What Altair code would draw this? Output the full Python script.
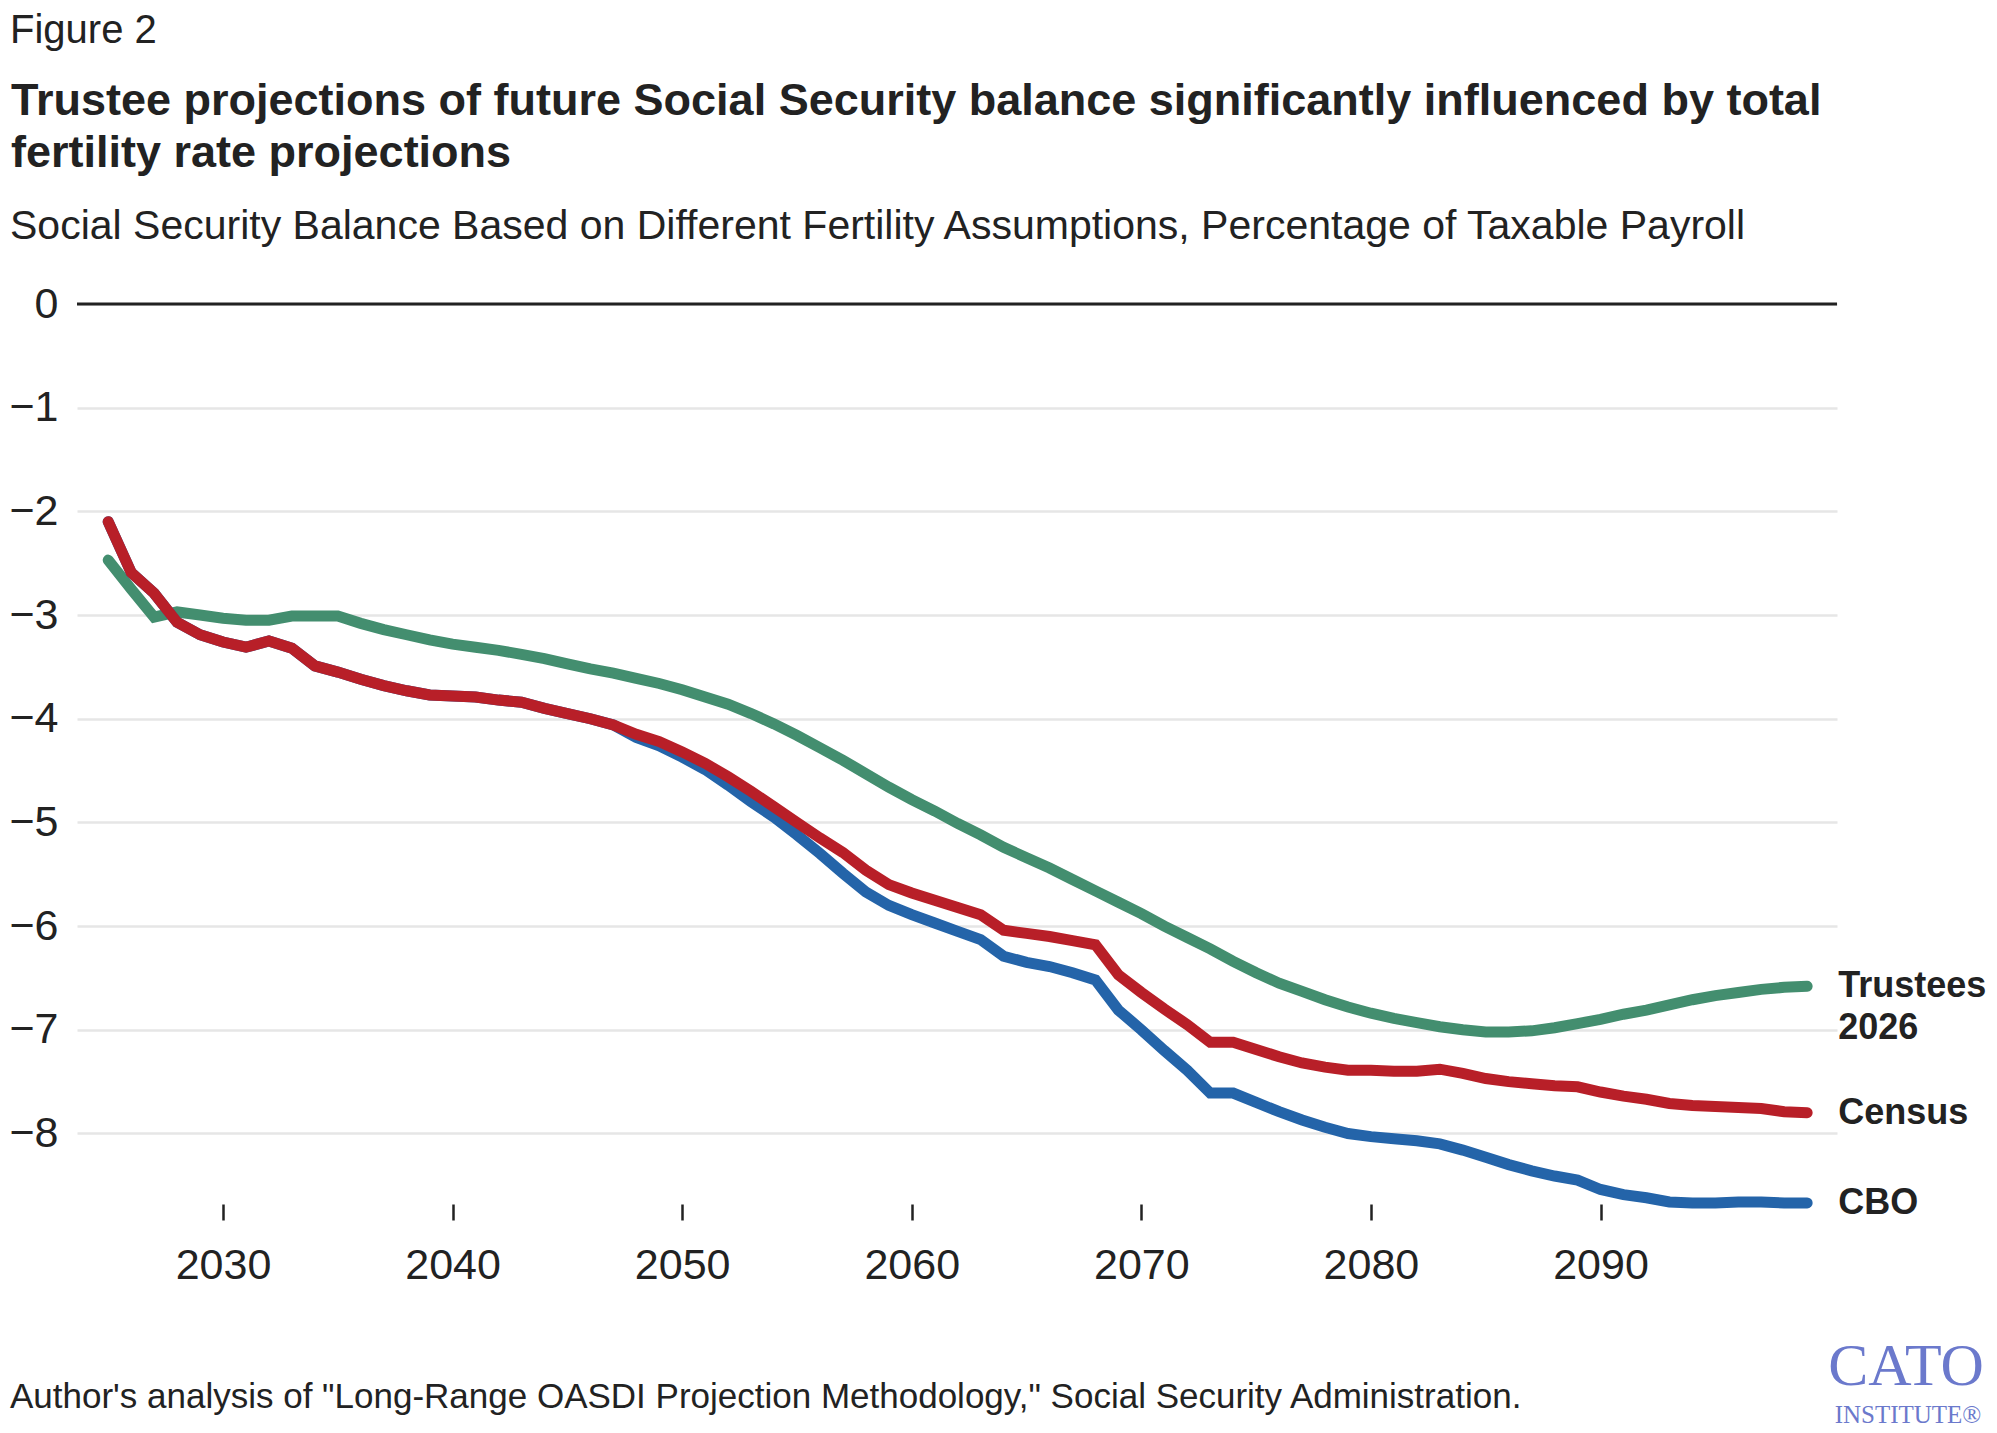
import altair as alt
import pandas as pd

# ---- data: Social Security balance, % of taxable payroll ----
years = list(range(2025, 2100))

trustees = [
    -2.47, -2.75, -3.02, -2.97, -3.00,
    -3.03, -3.05, -3.05, -3.01, -3.01,
    -3.01, -3.08, -3.14, -3.19, -3.24,
    -3.28, -3.31, -3.34, -3.38, -3.42,
    -3.47, -3.52, -3.56, -3.61, -3.66,
    -3.72, -3.79, -3.86, -3.95, -4.05,
    -4.16, -4.28, -4.40, -4.53, -4.66,
    -4.78, -4.89, -5.01, -5.12, -5.24,
    -5.34, -5.44, -5.55, -5.66, -5.77,
    -5.88, -6.00, -6.11, -6.22, -6.34,
    -6.45, -6.55, -6.63, -6.71, -6.78,
    -6.84, -6.89, -6.93, -6.97, -7.00,
    -7.02, -7.02, -7.01, -6.98, -6.94,
    -6.90, -6.85, -6.81, -6.76, -6.71,
    -6.67, -6.64, -6.61, -6.59, -6.58,
]

census = [
    -2.10, -2.59, -2.79, -3.07, -3.19,
    -3.26, -3.31, -3.25, -3.32, -3.49,
    -3.55, -3.62, -3.68, -3.73, -3.77,
    -3.78, -3.79, -3.82, -3.84, -3.90,
    -3.95, -4.00, -4.06, -4.15, -4.22,
    -4.32, -4.43, -4.56, -4.70, -4.85,
    -5.00, -5.15, -5.29, -5.46, -5.60,
    -5.68, -5.75, -5.82, -5.89, -6.04,
    -6.07, -6.10, -6.14, -6.18, -6.47,
    -6.64, -6.80, -6.95, -7.12, -7.12,
    -7.19, -7.26, -7.32, -7.36, -7.39,
    -7.39, -7.40, -7.40, -7.38, -7.42,
    -7.47, -7.50, -7.52, -7.54, -7.55,
    -7.60, -7.64, -7.67, -7.71, -7.73,
    -7.74, -7.75, -7.76, -7.79, -7.80,
]

cbo = [
    -2.10, -2.59, -2.79, -3.07, -3.19,
    -3.26, -3.31, -3.25, -3.32, -3.49,
    -3.55, -3.62, -3.68, -3.73, -3.77,
    -3.78, -3.79, -3.82, -3.84, -3.90,
    -3.95, -4.00, -4.06, -4.18, -4.26,
    -4.37, -4.49, -4.64, -4.80, -4.95,
    -5.12, -5.30, -5.49, -5.67, -5.80,
    -5.89, -5.97, -6.05, -6.13, -6.29,
    -6.35, -6.39, -6.45, -6.52, -6.81,
    -7.00, -7.20, -7.39, -7.61, -7.61,
    -7.70, -7.79, -7.87, -7.94, -8.00,
    -8.03, -8.05, -8.07, -8.10, -8.16,
    -8.23, -8.30, -8.36, -8.41, -8.45,
    -8.54, -8.59, -8.62, -8.66, -8.67,
    -8.67, -8.66, -8.66, -8.67, -8.67,
]

series_names = ["Trustees 2026", "CBO", "Census"]
series_colors = ["#438e6f", "#2464a9", "#b81f28"]
x_ticks = [2030, 2040, 2050, 2060, 2070, 2080, 2090]
y_ticks = [0, -1, -2, -3, -4, -5, -6, -7, -8]

FONT = "Liberation Sans"
SERIF = "Liberation Serif"
INK = "#222222"
LOGO = "#6b79cc"

W, H = 1760, 900  # plot area

x_enc = alt.X(
    "year:Q",
    scale=alt.Scale(domain=[2023.64, 2100.3], nice=False, zero=False),
    axis=alt.Axis(
        values=x_ticks, format="d", grid=False, domain=False,
        ticks=True, tickSize=16, tickWidth=2.5, tickColor=INK,
        labelFontSize=43, labelColor=INK, labelFont=FONT,
        labelPadding=24, labelFlush=False, labelOverlap=False, title=None,
    ),
)
y_enc = alt.Y(
    "value:Q",
    scale=alt.Scale(domain=[-8.68, 0], nice=False, zero=False),
    axis=alt.Axis(
        values=y_ticks, format="d", grid=True, gridColor="#e6e6e6",
        gridWidth=2.5, domain=False, ticks=False, labelFontSize=43,
        labelColor=INK, labelFont=FONT, labelPadding=19, labelFlush=False,
        labelOverlap=False, title=None,
    ),
)


def series_layer(values, color):
    df = pd.DataFrame({"year": years, "value": values})
    return alt.Chart(df).mark_line(
        color=color, strokeWidth=11, strokeCap="round"
    ).encode(x=x_enc, y=y_enc)


# dark baseline at zero, on the shared y scale
zero_rule = alt.Chart(pd.DataFrame({"value": [0]})).mark_rule(
    color=INK, strokeWidth=3
).encode(y=alt.Y("value:Q"))

lines = [
    series_layer(trustees, series_colors[0]),
    series_layer(cbo, series_colors[1]),
    series_layer(census, series_colors[2]),
]

# end-of-line labels, placed at the last value of each series
end_df = pd.DataFrame({
    "year": [years[-1]] * 3,
    "value": [trustees[-1], census[-1], cbo[-1]],
    "label": ["Trustees", "Census", "CBO"],
})
end_labels = alt.Chart(end_df).mark_text(
    align="left", baseline="middle", dx=31, fontSize=36,
    fontWeight="bold", font=FONT, color=INK,
).encode(x=alt.X("year:Q"), y=alt.Y("value:Q"), text="label:N")

end_labels2 = alt.Chart(pd.DataFrame({
    "year": [years[-1]], "value": [trustees[-1]], "label": ["2026"],
})).mark_text(
    align="left", baseline="middle", dx=31, dy=42, fontSize=36,
    fontWeight="bold", font=FONT, color=INK,
).encode(x=alt.X("year:Q"), y=alt.Y("value:Q"), text="label:N")


def note(text, x, y, size, weight="normal", color=INK, align="left", font=FONT):
    return alt.Chart(pd.DataFrame({"t": [text]})).mark_text(
        align=align, baseline="alphabetic", fontSize=size,
        fontWeight=weight, color=color, font=font,
    ).encode(x=alt.value(x), y=alt.value(y), text="t:N")


header = [
    note("Figure 2", -67, -261, 40),
    note("Trustee projections of future Social Security balance significantly influenced by total",
         -66, -189, 45, weight="bold"),
    note("fertility rate projections", -66, -137, 45, weight="bold"),
    note("Social Security Balance Based on Different Fertility Assumptions, Percentage of Taxable Payroll",
         -67, -65, 41),
    note("Author's analysis of \"Long-Range OASDI Projection Methodology,\" Social Security Administration.",
         -67, 1104, 35),
]

# institute mark, bottom right
logo = [
    note("CATO", 1829, 1081, 60, color=LOGO, align="center", font=SERIF),
    note("INSTITUTE®", 1831, 1119, 25, color=LOGO, align="center", font=SERIF),
]

chart = alt.layer(
    *lines, zero_rule, end_labels, end_labels2, *header, *logo
).properties(
    width=W,
    height=H,
    padding={"left": 77, "top": 304, "right": 160, "bottom": 229},
    autosize=alt.AutoSizeParams(type="none"),
    background="white",
).configure_view(stroke=None)

chart.save("out.html", embed_options={"renderer": "svg", "actions": False})
